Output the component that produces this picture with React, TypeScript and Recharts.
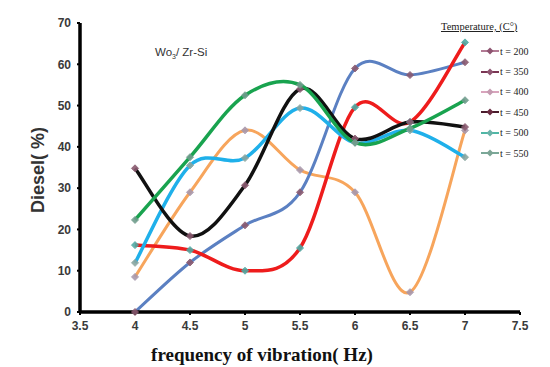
import React from 'react'
import { LineChart, Line, XAxis, YAxis, Legend } from 'recharts'

// frequency of vibration (Hz)
const freqs = [4, 4.5, 5, 5.5, 6, 6.5, 7]

// diesel yield (%) for each temperature
const t200 = [0, 12, 21, 29, 59, 57.4, 60.5]
const t350 = [16.2, 15, 10, 15.5, 49.6, 46, 65.3]
const t400 = [8.5, 29, 44, 34.4, 29, 4.8, 44]
const t450 = [34.8, 18.4, 30.7, 54, 42, 46, 44.8]
const t500 = [11.9, 35.5, 37.3, 49.4, 41, 44, 37.5]
const t550 = [22.3, 37.5, 52.5, 55, 41, 44.5, 51.3]

const xTicks = [3.5, 4, 4.5, 5, 5.5, 6, 6.5, 7, 7.5]
const yTicks = [0, 10, 20, 30, 40, 50, 60, 70]

const legendLabels = ['t = 200', 't = 350', 't = 400', 't = 450', 't = 500', 't = 550']
const legendLineColors = ['#b27a94', '#7a3553', '#d8a4bc', '#4a1c2c', '#4fb7a6', '#7aa898']
const legendDotColors = ['#8e5470', '#8e5470', '#c49ab0', '#6a2a40', '#6ab2a8', '#7ca494']

const data = freqs.map((f, i) => ({
  f,
  t200: t200[i],
  t350: t350[i],
  t400: t400[i],
  t450: t450[i],
  t500: t500[i],
  t550: t550[i],
}))

// Excel-like smoothed line (Catmull-Rom through every point)
function smoothCurve(context: any) {
  let pts: number[][] = []
  return {
    areaStart() {},
    areaEnd() {},
    lineStart() {
      pts = []
    },
    point(x: number, y: number) {
      pts.push([+x, +y])
    },
    lineEnd() {
      const n = pts.length
      if (!n) return
      context.moveTo(pts[0][0], pts[0][1])
      for (let i = 0; i < n - 1; i++) {
        const p0 = pts[Math.max(i - 1, 0)]
        const p1 = pts[i]
        const p2 = pts[i + 1]
        const p3 = pts[Math.min(i + 2, n - 1)]
        context.bezierCurveTo(
          p1[0] + (p2[0] - p0[0]) / 6,
          p1[1] + (p2[1] - p0[1]) / 6,
          p2[0] - (p3[0] - p1[0]) / 6,
          p2[1] - (p3[1] - p1[1]) / 6,
          p2[0],
          p2[1]
        )
      }
    },
  }
}

const diamond = (color: string) => (props: any) => {
  const { cx, cy, index } = props
  if (cx == null || cy == null) return <g key={index} />
  const r = 3.5
  return (
    <path
      key={index}
      d={`M${cx},${cy - r}L${cx + r},${cy}L${cx},${cy + r}L${cx - r},${cy}Z`}
      fill={color}
      stroke={color}
      strokeWidth={1}
      opacity={0.9}
    />
  )
}

function LegendBox() {
  return (
    <div style={{ fontFamily: '"Liberation Serif", serif', color: '#222' }}>
      <div style={{ fontSize: 10.5, textDecoration: 'underline', marginBottom: 9, whiteSpace: 'nowrap' }}>
        Temperature, (C°)
      </div>
      {legendLabels.map((label, i) => (
        <div key={label} style={{ display: 'flex', alignItems: 'center', height: 20.4, paddingLeft: 40 }}>
          <svg width={18} height={10} style={{ marginRight: 1 }}>
            <line x1={0} y1={5} x2={18} y2={5} stroke={legendLineColors[i]} strokeWidth={2} />
            <path d="M9,1.5L12.5,5L9,8.5L5.5,5Z" fill={legendDotColors[i]} />
          </svg>
          <span style={{ fontSize: 10 }}>{label}</span>
        </div>
      ))}
    </div>
  )
}

const tickStyle = { fontSize: 12, fill: '#3a3a3a', fontWeight: 'bold', fontFamily: 'Arial, "Liberation Sans", sans-serif' }

export default function App() {
  return (
    <div style={{ position: 'absolute', left: 0, top: 0, width: 550, height: 367, background: '#fff' }}>
      <LineChart width={550} height={367} data={data} margin={{ top: 23, right: 30, bottom: 25, left: 0 }}>
        <XAxis
          dataKey="f"
          type="number"
          domain={[3.5, 7.5]}
          ticks={xTicks}
          tick={tickStyle}
          tickSize={3}
          tickLine={{ stroke: '#000', strokeWidth: 2 }}
          axisLine={{ stroke: '#000', strokeWidth: 3.5 }}
          tickMargin={6}
        />
        <YAxis
          width={80}
          domain={[0, 70]}
          ticks={yTicks}
          tick={tickStyle}
          tickSize={3}
          tickLine={{ stroke: '#000', strokeWidth: 2 }}
          axisLine={{ stroke: '#000', strokeWidth: 3.5 }}
          tickMargin={6}
        />
        <Legend
          layout="vertical"
          align="center"
          verticalAlign="middle"
          wrapperStyle={{ left: 441, top: 21, width: 109 }}
          content={() => <LegendBox />}
        />
        <Line type={smoothCurve as any} dataKey="t400" stroke="#f7a55c" strokeWidth={3} dot={diamond('#a898ac')} isAnimationActive={false} />
        <Line type={smoothCurve as any} dataKey="t200" stroke="#5b80c2" strokeWidth={3} dot={diamond('#8a5a70')} isAnimationActive={false} />
        <Line type={smoothCurve as any} dataKey="t350" stroke="#ee1c1c" strokeWidth={3.5} dot={diamond('#4faaa4')} isAnimationActive={false} />
        <Line type={smoothCurve as any} dataKey="t500" stroke="#1fb0ea" strokeWidth={3.5} dot={diamond('#8aa6a0')} isAnimationActive={false} />
        <Line type={smoothCurve as any} dataKey="t450" stroke="#111111" strokeWidth={3.5} dot={diamond('#8a5a70')} isAnimationActive={false} />
        <Line type={smoothCurve as any} dataKey="t550" stroke="#19a34f" strokeWidth={3.5} dot={diamond('#6f9c8c')} isAnimationActive={false} />
      </LineChart>
      <div
        style={{
          position: 'absolute',
          left: 155,
          top: 46,
          fontSize: 11.5,
          color: '#333',
          fontFamily: 'Arial, "Liberation Sans", sans-serif',
        }}
      >
        Wo<sub style={{ fontSize: 7 }}>3</sub>/ Zr-Si
      </div>
      <div
        style={{
          position: 'absolute',
          left: 38,
          top: 170,
          transform: 'translate(-50%, -50%) rotate(-90deg)',
          fontSize: 18,
          fontWeight: 'bold',
          color: '#333',
          fontFamily: 'Arial, "Liberation Sans", sans-serif',
          whiteSpace: 'nowrap',
        }}
      >
        Diesel( %)
      </div>
      <div
        style={{
          position: 'absolute',
          left: 262,
          top: 355,
          transform: 'translate(-50%, -50%)',
          fontSize: 19,
          fontWeight: 'bold',
          color: '#111',
          fontFamily: '"Liberation Serif", "Times New Roman", serif',
          whiteSpace: 'nowrap',
        }}
      >
        frequency of vibration( Hz)
      </div>
    </div>
  )
}
